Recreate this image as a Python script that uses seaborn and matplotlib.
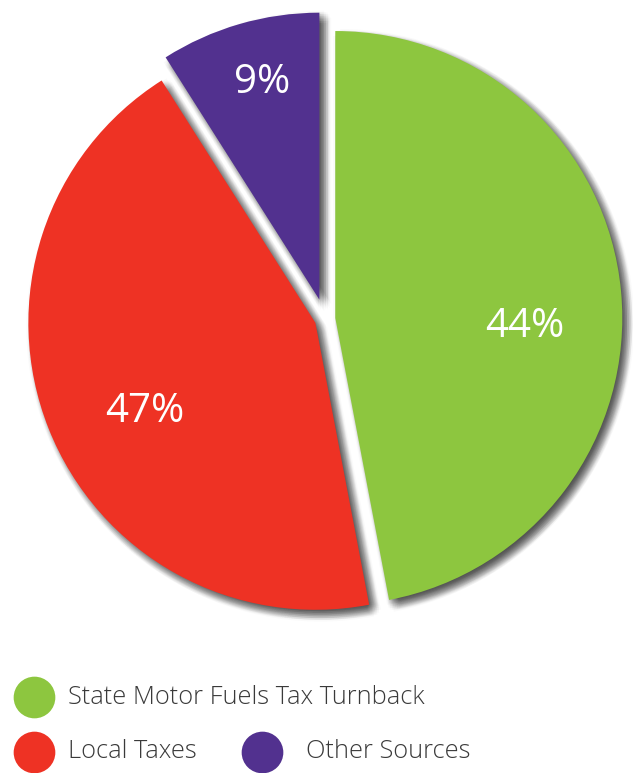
import numpy as np
import matplotlib.pyplot as plt
import matplotlib.patheffects as pe
from matplotlib.patches import Wedge
import seaborn as sns

# ==============================================
# data
categories = ['State Motor Fuels Tax Turnback', 'Local Taxes', 'Other Sources']
wedge_sizes = [47, 44, 9]            # angular share as drawn in the picture
pct_labels = ['44%', '47%', '9%']    # values printed on the slices
colors = ['#8DC63F', '#EE3224', '#52318F']

sns.set_theme(style='white')
plt.rcParams['font.family'] = ['Open Sans', 'DejaVu Sans']

W, H = 633, 773
cx, cy, R = 325, 319, 287   # pie centre / radius in pixels

def px(x, y):
    # pixel position (from top-left) -> data coords of the pie
    return (x - cx) / R, (cy - y) / R

fig = plt.figure(figsize=(W / 100, H / 100), dpi=100)
ax = fig.add_axes([0, 0, 1, 1])

wedges, _ = ax.pie(wedge_sizes, colors=colors, startangle=90, counterclock=False,
                   explode=[0.036, 0.036, 0.07], wedgeprops=dict(linewidth=0))

# ==============================================
# soft (blurred) drop shadows under the slices
offsets = [(3.5 + dx, -3.5 + dy) for dx in np.linspace(-5, 5, 9)
           for dy in np.linspace(-5, 5, 9) if dx * dx + dy * dy <= 26]
for w in wedges:
    sh = Wedge(w.center, w.r, w.theta1, w.theta2, facecolor='black',
               linewidth=0, zorder=0.5)
    sh.set_path_effects([pe.SimplePatchShadow(offset=o, shadow_rgbFace='black', alpha=0.018)
                         for o in offsets])
    ax.add_patch(sh)

# ==============================================
# percentage labels
label_pos = [(525, 327), (145, 412), (262, 83)]
for txt, (x, y) in zip(pct_labels, label_pos):
    ax.text(*px(x, y), txt, color='white', fontsize=29, ha='center', va='center',
            fontweight='normal')

# ==============================================
# legend
legend_pos = [(34, 697), (34, 752), (262, 752)]
text_pos = [(68, 697), (68, 752), (306, 752)]
for name, col, (mx, my), (tx, ty) in zip(categories, colors, legend_pos, text_pos):
    ax.scatter(*px(mx, my), s=900, color=col, linewidths=0, clip_on=False)
    ax.text(*px(tx, ty), name, color='#3a3a3a', fontsize=18.3, ha='left', va='center',
            fontweight='light')

ax.set_aspect('auto')
ax.set_xlim(px(0, 0)[0], px(W, 0)[0])
ax.set_ylim(px(0, H)[1], px(0, 0)[1])
ax.axis('off')

plt.savefig('out.png', dpi=100)
